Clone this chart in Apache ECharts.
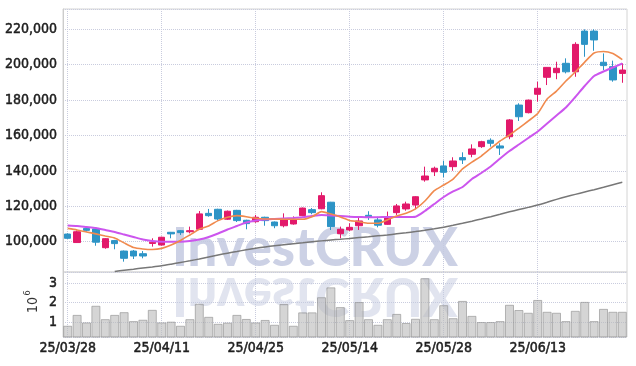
<!DOCTYPE html>
<html><head><meta charset="utf-8">
<script src="https://cdn.jsdelivr.net/npm/echarts@6/dist/echarts.min.js"></script>
<style>html,body{margin:0;padding:0;background:#fff}#c{width:636px;height:366px}</style>
</head><body><div id="c"></div>
<script>
const dates = ['25/03/28','25/03/31','25/04/01','25/04/02','25/04/03','25/04/04','25/04/07','25/04/08','25/04/09','25/04/10',
'25/04/11','25/04/14','25/04/15','25/04/16','25/04/17','25/04/18','25/04/21','25/04/22','25/04/23','25/04/24',
'25/04/25','25/04/28','25/04/29','25/04/30','25/05/02','25/05/07','25/05/08','25/05/09','25/05/12','25/05/13',
'25/05/14','25/05/15','25/05/16','25/05/19','25/05/20','25/05/21','25/05/22','25/05/23','25/05/26','25/05/27',
'25/05/28','25/05/29','25/05/30','25/06/02','25/06/04','25/06/05','25/06/09','25/06/10','25/06/11','25/06/12',
'25/06/13','25/06/16','25/06/17','25/06/18','25/06/19','25/06/20','25/06/23','25/06/24','25/06/25','25/06/26'];

const opens  = [104300,99500,107500,107200,96600,100600,94700,94700,93200,99000,
 98100,105300,106200,105600,107000,116000,118300,112700,117700,112100,
 111300,113800,111100,109000,110000,114700,118100,118600,122300,104500,
 106600,109000,114900,112300,109800,116400,118500,120700,134900,139500,
 142800,142400,147500,149400,153700,157300,154100,159300,177200,172900,
 183300,192900,195500,200800,196000,219000,219000,201400,198900,195100];
const closes = [101900,105600,106400,99700,101700,98900,90600,91900,91900,99700,
 102500,104400,105100,106200,115700,114700,112800,117200,111900,110200,
 113800,111900,109000,112800,112400,119000,116400,126000,108500,107000,
 108100,111700,113800,109300,113800,120200,121300,125400,137100,141500,
 139200,145600,146200,152400,156500,155600,152900,168800,170600,180000,
 186700,198500,198000,196000,211500,211500,214000,199500,191400,197000];
const lows   = [101500,99300,105700,97700,96000,95700,88700,90200,90600,97200,
 97800,101900,103800,104700,106600,114100,111900,112300,111100,107000,
 110700,109000,107600,108100,109600,114400,115500,118300,106600,101900,
 106000,106600,112300,108100,109500,115100,117500,118300,133900,137100,
 136400,140100,143900,147700,153000,153700,149000,157900,168200,172500,
 179100,188500,191800,195100,193200,204500,207900,197000,190400,189800];
const highs  = [104700,106300,108100,107500,102000,101000,95000,95300,94700,101900,
 102800,105500,106600,108500,117300,118500,118600,117600,118000,112400,
 115100,114100,111400,116000,114300,119300,119000,127900,122500,108500,
 110400,114500,117200,114100,117000,121300,122600,125700,142400,142400,
 145800,147700,150500,155000,157000,158400,155600,169300,178200,180300,
 190400,198700,201700,203600,212700,220000,220000,206400,202300,200800];

const maShort = [107500,106600,105500,104400,103200,102100,99300,96700,95900,95600,
 96200,98100,100700,103800,107000,108900,111900,113800,114700,114100,
 113200,112800,112800,112700,112700,112700,114100,117000,115600,114000,
 112000,111300,110400,110400,112300,114500,116000,118500,123000,128800,
 132000,135400,141100,145000,148400,152700,156900,160300,164200,168200,
 172400,180600,185100,190800,195900,201500,206600,207500,206300,202900];
const maMid = [109150,108870,108300,107740,106610,105480,104070,102660,101240,100400,
 100000,100000,100000,100400,101240,102660,104630,106890,108870,110850,
 111980,112540,112830,113110,113390,113790,114520,115090,114800,114520,
 114130,113960,113790,113790,113960,113960,113960,114130,117350,121300,
 125260,128360,130910,135430,138820,142490,147010,151250,154920,158590,
 162260,166780,171300,175820,181760,187970,193620,196160,198420,200680];
const maLong = [null,null,null,null,null,83160,83840,84460,85140,85710,
 86380,87290,88250,89210,90230,91360,92490,93500,94460,95420,
 96270,97010,97680,98310,98870,99380,99940,100450,100960,101360,
 101810,102320,102770,103280,103790,104410,105030,105710,106440,107290,
 108190,109270,110400,111580,112830,114130,115480,116890,118140,119380,
 120680,122260,123900,125370,126720,128080,129380,130740,132150,133560];

const volumes = [810000,1370000,980000,1840000,1150000,1370000,1510000,1050000,1120000,1630000,
 980000,1020000,810000,1150000,1940000,1270000,910000,970000,1370000,1160000,
 980000,1110000,860000,1930000,810000,1500000,1500000,2280000,2790000,1770000,
 1100000,2030000,1150000,860000,1150000,1420000,950000,1170000,3260000,1150000,
 1870000,1200000,2090000,1320000,1000000,1000000,1050000,1890000,1620000,1480000,
 2140000,1530000,1480000,1050000,1580000,2040000,1050000,1680000,1530000,1530000];

const FONT = '"DejaVu Sans Condensed",sans-serif';
const GRIDC = '#c9ccde';
const candles = opens.map((o, i) => [o, closes[i], lows[i], highs[i]]);

const wmFont = '900 54px Lato';
const cv = document.createElement('canvas').getContext('2d');
cv.font = wmFont;
const wmScale = 286 / cv.measureText('InvestCRUX').width;
const labelStyle = {fontFamily: FONT, fontSize: 14, color: '#1e1e1e', textBorderColor: '#1e1e1e', textBorderWidth: 0.5};

const chart = echarts.init(document.getElementById('c'));
chart.setOption({
  animation: false,
  grid: [
    {left: 63, right: 9, top: 9, height: 263, show: true, borderColor: '#d4d4d4', borderWidth: 1, outerBoundsMode: 'none', containLabel: false},
    {left: 63, right: 9, top: 272, height: 65, show: true, borderColor: '#d4d4d4', borderWidth: 1, outerBoundsMode: 'none', containLabel: false}
  ],
  xAxis: [
    {type: 'category', data: dates, gridIndex: 0, boundaryGap: true,
     axisLine: {show: false}, axisTick: {show: false, alignWithLabel: true, interval: 9},
     axisLabel: {show: false, interval: 9},
     splitLine: {show: true, interval: 9, alignWithLabel: true, lineStyle: {type: 'dotted', color: GRIDC}}},
    {type: 'category', data: dates, gridIndex: 1, boundaryGap: true,
     axisLine: {show: false}, axisTick: {show: false, alignWithLabel: true, interval: 9},
     axisLabel: Object.assign({show: true, interval: 9, margin: 4}, labelStyle),
     splitLine: {show: true, interval: 9, alignWithLabel: true, lineStyle: {type: 'dotted', color: GRIDC}}}
  ],
  yAxis: [
    {type: 'value', gridIndex: 0, min: 82860, max: 231490, minInterval: 20000, maxInterval: 20000,
     axisLine: {show: true, lineStyle: {color: '#cccccc'}}, axisTick: {show: false},
     axisLabel: Object.assign({showMinLabel: false, showMaxLabel: false, margin: 6,
       formatter: v => v.toLocaleString('en-US')}, labelStyle),
     splitLine: {lineStyle: {type: 'dotted', color: GRIDC}}},
    {type: 'value', gridIndex: 1, min: 230000, max: 3580000, minInterval: 1000000, maxInterval: 1000000,
     axisLine: {show: true, lineStyle: {color: '#cccccc'}}, axisTick: {show: false},
     axisLabel: Object.assign({showMinLabel: false, showMaxLabel: false, margin: 6,
       formatter: v => String(Math.round(v / 1000000))}, labelStyle),
     splitLine: {lineStyle: {type: 'dotted', color: GRIDC}}}
  ],
  graphic: [
    {type: 'text', z: 1, x: 172, y: 272, scaleX: wmScale,
     style: {text: 'InvestCRUX', font: wmFont, fill: '#c3c9e0', opacity: 0.85, y: 4,
       textAlign: 'left', textVerticalAlign: 'bottom', align: 'left', verticalAlign: 'bottom'}},
    {type: 'text', z: 1, x: 172, y: 272, scaleX: wmScale, scaleY: -1,
     style: {text: 'InvestCRUX', font: wmFont, fill: '#c3c9e0', opacity: 0.5, y: 4,
       textAlign: 'left', textVerticalAlign: 'bottom', align: 'left', verticalAlign: 'bottom'}},
    {type: 'text', x: 33, y: 305, rotation: Math.PI / 2,
     style: {text: '10', font: '14px "DejaVu Sans Condensed",sans-serif', fill: '#333',
       textAlign: 'center', textVerticalAlign: 'middle', align: 'center', verticalAlign: 'middle'}},
    {type: 'text', x: 28, y: 293, rotation: Math.PI / 2,
     style: {text: '6', font: '9px "DejaVu Sans Condensed",sans-serif', fill: '#333',
       textAlign: 'center', textVerticalAlign: 'middle', align: 'center', verticalAlign: 'middle'}}
  ],
  series: [
    {type: 'candlestick', xAxisIndex: 0, yAxisIndex: 0, data: candles, barWidth: 7,
     itemStyle: {color: '#e2196a', color0: '#2d94c6', borderColor: '#e2196a', borderColor0: '#2d94c6', borderWidth: 1}},
    {type: 'line', xAxisIndex: 0, yAxisIndex: 0, data: maLong, symbol: 'none', smooth: 0.2,
     lineStyle: {color: '#777777', width: 1.5}},
    {type: 'line', xAxisIndex: 0, yAxisIndex: 0, data: maMid, symbol: 'none', smooth: 0.2,
     lineStyle: {color: '#cc55ee', width: 2}},
    {type: 'line', xAxisIndex: 0, yAxisIndex: 0, data: maShort, symbol: 'none', smooth: 0.2,
     lineStyle: {color: '#f08a4e', width: 1.6}},
    {type: 'bar', xAxisIndex: 1, yAxisIndex: 1, data: volumes, barCategoryGap: '4%',
     itemStyle: {color: 'rgba(185,185,185,0.6)', borderColor: 'rgba(140,140,140,0.6)', borderWidth: 1}}
  ]
});
</script></body></html>
